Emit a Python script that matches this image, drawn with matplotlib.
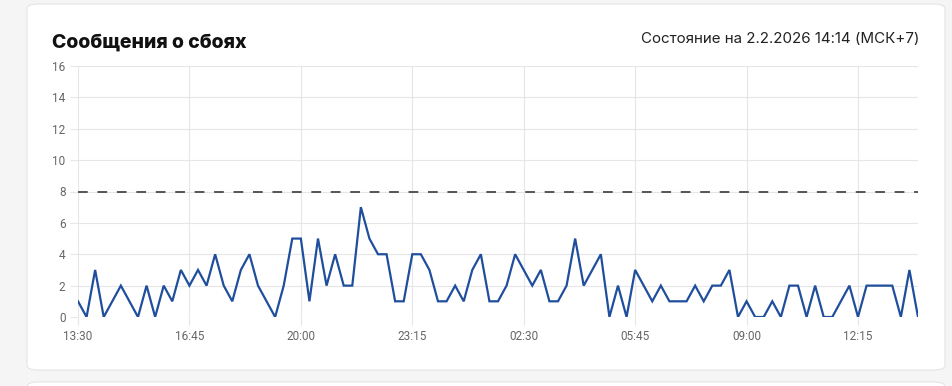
import matplotlib.pyplot as plt
from matplotlib.patches import FancyBboxPatch

# failure reports every 15 minutes, 13:30 -> 14:00 next day
failures = [
    1, 0, 3, 0, 1, 2, 1, 0, 2, 0, 2, 1, 3, 2, 3, 2, 4, 2, 1, 3,
    4, 2, 1, 0, 2, 5, 5, 1, 5, 2, 4, 2, 2, 7, 5, 4, 4, 1, 1, 4,
    4, 3, 1, 1, 2, 1, 3, 4, 1, 1, 2, 4, 3, 2, 3, 1, 1, 2, 5, 2,
    3, 4, 0, 2, 0, 3, 2, 1, 2, 1, 1, 1, 2, 1, 2, 2, 3, 0, 1, 0,
    0, 1, 0, 2, 2, 0, 2, 0, 0, 1, 2, 0, 2, 2, 2, 2, 0, 3, 0,
]
threshold = 8
tick_labels = ["13:30", "16:45", "20:00", "23:15", "02:30", "05:45", "09:00", "12:15"]
y_ticks = [0, 2, 4, 6, 8, 10, 12, 14, 16]

W, H = 953, 386
fig = plt.figure(figsize=(W / 100, H / 100), dpi=100)
fig.patch.set_facecolor("#f5f5f5")

# white cards behind everything
for top, h in [(370, 366), (400, 18)]:
    card = FancyBboxPatch((27 / W, 1 - top / H), 918 / W, h / H,
                          boxstyle="round,pad=0,rounding_size=0.012",
                          transform=fig.transFigure, facecolor="white",
                          edgecolor="#e4e4e4", linewidth=0.8, zorder=-10)
    fig.patches.append(card)

fig.text(52 / W, 1 - 43 / H, "Сообщения о сбоях", fontsize=14, fontweight="heavy",
         family=["Inter", "DejaVu Sans"], color="#111111", va="center", ha="left")
fig.text(920 / W, 1 - 39 / H, "Состояние на 2.2.2026 14:14 (МСК+7)", fontsize=10.9,
         family=["Inter", "DejaVu Sans"], color="#222222", va="center", ha="right")

ax = fig.add_axes([78 / W, 1 - 317 / H, 840 / W, 251 / H])
ax.set_facecolor("none")
x = list(range(len(failures)))
ax.plot(x, failures, color="#1f4e9c", linewidth=1.6, zorder=3, solid_joinstyle="miter")
ax.axhline(threshold, color="#555555", linewidth=1.4, linestyle=(0, (5, 5)), zorder=2)

ax.set_xlim(0, len(failures) - 1)
ax.set_ylim(0, 16)
ax.set_yticks(y_ticks)
ax.set_xticks(x[::13][:len(tick_labels)])
ax.set_xticklabels(tick_labels)
ax.grid(True, color="#e6e6e6", linewidth=0.8, zorder=0)
for s in ax.spines.values():
    s.set_visible(False)
ax.tick_params(axis="both", length=6, width=0.8, color="#e6e6e6",
               labelcolor="#666666", labelsize=8.5, pad=3)
for lab in ax.get_xticklabels() + ax.get_yticklabels():
    lab.set_family(["Roboto", "DejaVu Sans"])

fig.savefig("out.png", dpi=100)
